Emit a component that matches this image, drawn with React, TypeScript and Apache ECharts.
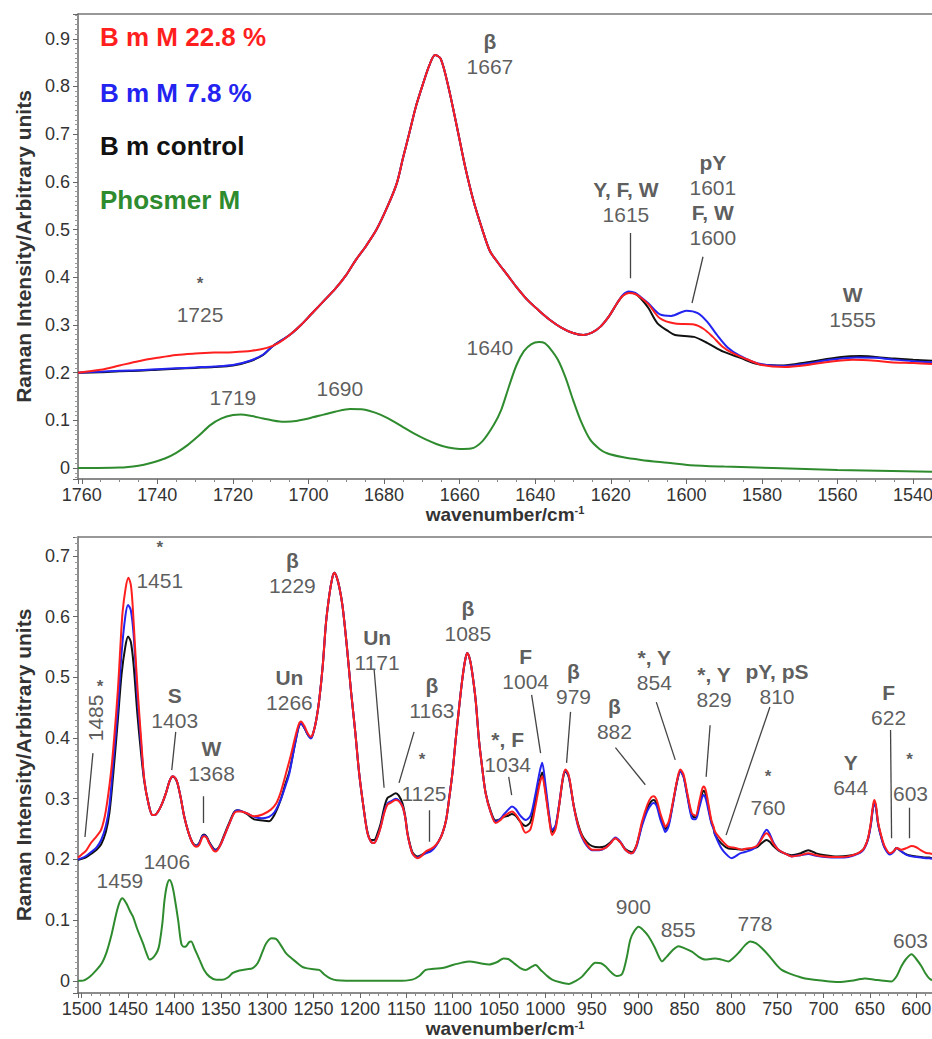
import React, { useEffect, useRef } from "react";
import * as echarts from "echarts";

// ---------- top panel (1760-1535 cm-1) ----------
const topRed: [number, number][] = [
  [1761, 0.2], [1755, 0.206], [1750, 0.215], [1745, 0.224], [1740, 0.231], [1735, 0.237], [1730, 0.24],
  [1725, 0.242], [1720, 0.243], [1715, 0.246], [1711, 0.252], [1708, 0.262], [1705, 0.279], [1702, 0.3],
  [1699, 0.325], [1696, 0.35], [1693, 0.375], [1690, 0.405], [1687.5, 0.436], [1685, 0.463], [1682, 0.5],
  [1679, 0.55], [1676.6, 0.598], [1675, 0.65], [1673.3, 0.703], [1671.5, 0.76], [1669.6, 0.808], [1668, 0.845],
  [1666.5, 0.866], [1665, 0.858], [1663, 0.8], [1660.4, 0.703], [1658.5, 0.63], [1656.4, 0.562], [1654, 0.5],
  [1652, 0.455], [1650, 0.432], [1647.4, 0.405], [1645, 0.38], [1642, 0.352], [1639, 0.33], [1636, 0.31],
  [1633, 0.294], [1630, 0.283], [1627.3, 0.279], [1625, 0.284], [1622.8, 0.296], [1620.5, 0.318], [1618.3, 0.346],
  [1616.8, 0.361], [1615.2, 0.367], [1613.5, 0.365], [1612, 0.357], [1610, 0.343], [1607, 0.314], [1603, 0.303],
  [1598, 0.301], [1595.5, 0.292], [1593, 0.275], [1590.5, 0.255], [1588, 0.242], [1584, 0.228], [1580, 0.216],
  [1574, 0.212], [1568, 0.216], [1562, 0.223], [1556, 0.227], [1550, 0.225], [1546, 0.222], [1540, 0.22], [1535, 0.218],
];
const topBlue: [number, number][] = [
  [1761, 0.2], [1755, 0.202], [1750, 0.204], [1745, 0.205], [1740, 0.207], [1735, 0.209], [1730, 0.211],
  [1725, 0.213], [1720, 0.216], [1715.5, 0.225], [1712, 0.238], [1709.4, 0.256], [1705, 0.279], [1702, 0.3],
  [1699, 0.325], [1696, 0.35], [1693, 0.375], [1690, 0.405], [1687.5, 0.436], [1685, 0.463], [1682, 0.5],
  [1679, 0.55], [1676.6, 0.598], [1675, 0.65], [1673.3, 0.703], [1671.5, 0.76], [1669.6, 0.808], [1668, 0.845],
  [1666.5, 0.866], [1665, 0.858], [1663, 0.8], [1660.4, 0.703], [1658.5, 0.63], [1656.4, 0.562], [1654, 0.5],
  [1652, 0.455], [1650, 0.432], [1647.4, 0.405], [1645, 0.38], [1642, 0.352], [1639, 0.33], [1636, 0.31],
  [1633, 0.294], [1630, 0.283], [1627.3, 0.279], [1625, 0.284], [1622.8, 0.296], [1620.5, 0.318], [1618.3, 0.346],
  [1616.8, 0.363], [1615.2, 0.37], [1613.5, 0.367], [1612, 0.358], [1610, 0.345], [1607, 0.322], [1604, 0.319],
  [1600, 0.33], [1597, 0.325], [1594.4, 0.306], [1592, 0.28], [1589, 0.252], [1586, 0.236], [1581, 0.219],
  [1574, 0.214], [1568, 0.219], [1562, 0.227], [1555, 0.232], [1550, 0.231], [1546, 0.228], [1540, 0.224], [1535, 0.222],
];
const topBlack: [number, number][] = [
  [1761, 0.2], [1755, 0.201], [1750, 0.203], [1745, 0.204], [1740, 0.206], [1735, 0.208], [1730, 0.21],
  [1725, 0.212], [1720, 0.215], [1715.5, 0.224], [1712, 0.237], [1709.4, 0.256], [1705, 0.279], [1702, 0.3],
  [1699, 0.325], [1696, 0.35], [1693, 0.375], [1690, 0.405], [1687.5, 0.436], [1685, 0.463], [1682, 0.5],
  [1679, 0.55], [1676.6, 0.598], [1675, 0.65], [1673.3, 0.703], [1671.5, 0.76], [1669.6, 0.808], [1668, 0.845],
  [1666.5, 0.866], [1665, 0.858], [1663, 0.8], [1660.4, 0.703], [1658.5, 0.63], [1656.4, 0.562], [1654, 0.5],
  [1652, 0.455], [1650, 0.432], [1647.4, 0.405], [1645, 0.38], [1642, 0.352], [1639, 0.33], [1636, 0.31],
  [1633, 0.294], [1630, 0.283], [1627.3, 0.279], [1625, 0.284], [1622.8, 0.296], [1620.5, 0.318], [1618.3, 0.346],
  [1616.8, 0.362], [1615.2, 0.368], [1613.5, 0.365], [1612, 0.355], [1610, 0.335], [1607.7, 0.304], [1605, 0.288],
  [1603, 0.279], [1598, 0.275], [1594.4, 0.262], [1590.2, 0.244], [1585.7, 0.231], [1581.2, 0.218], [1574.3, 0.215],
  [1568, 0.222], [1559, 0.233], [1554, 0.235], [1546, 0.23], [1540, 0.227], [1535, 0.225],
];
const topGreen: [number, number][] = [
  [1761, 0], [1750, 0.001], [1745, 0.005], [1742, 0.01], [1738, 0.02], [1735, 0.032], [1732, 0.048], [1729, 0.068],
  [1726, 0.09], [1723, 0.104], [1720, 0.111], [1718, 0.112], [1715, 0.109], [1712, 0.104], [1707, 0.097],
  [1704, 0.098], [1700, 0.104], [1696, 0.112], [1693, 0.118], [1689, 0.124], [1686, 0.123], [1684, 0.12],
  [1681, 0.112], [1678, 0.1], [1675, 0.086], [1672, 0.072], [1669, 0.06], [1666, 0.05], [1663, 0.043], [1660, 0.04],
  [1657, 0.041], [1654, 0.056], [1651, 0.09], [1649, 0.122], [1647, 0.17], [1645, 0.215], [1643, 0.245],
  [1641, 0.26], [1639, 0.264], [1637.5, 0.262], [1636, 0.25], [1634, 0.227], [1632, 0.19], [1630, 0.143],
  [1628, 0.1], [1625.5, 0.06], [1623, 0.04], [1621, 0.031], [1617, 0.023], [1612, 0.017], [1605, 0.011],
  [1599, 0.006], [1590, 0.003], [1577, 0], [1560, -0.004], [1535, -0.008],
];

// ---------- bottom panel (1500-585 cm-1) ----------
const botRed: [number, number][] = [
  [1504, 0.203], [1500, 0.208], [1495, 0.215], [1490, 0.227], [1484, 0.238], [1479, 0.249], [1474, 0.28],
  [1468.5, 0.342], [1465, 0.4], [1461, 0.479], [1458.5, 0.545], [1456, 0.606], [1452.5, 0.648], [1449.7, 0.664],
  [1447, 0.652], [1445, 0.617], [1442.5, 0.55], [1439.7, 0.479], [1436, 0.4], [1432.5, 0.331], [1428, 0.292],
  [1423.6, 0.273], [1420, 0.274], [1416.4, 0.282], [1413, 0.293], [1409, 0.31], [1405, 0.33], [1402, 0.337],
  [1399, 0.334], [1396.7, 0.326], [1393, 0.3], [1389.5, 0.271], [1385, 0.245], [1380.5, 0.227], [1376.5, 0.221],
  [1373.3, 0.224], [1370, 0.236], [1368, 0.238], [1365, 0.235], [1362.6, 0.227], [1358, 0.215], [1355.4, 0.213],
  [1351, 0.222], [1346.4, 0.238], [1341, 0.258], [1335.6, 0.276], [1332, 0.279], [1328.5, 0.279], [1322, 0.276],
  [1314, 0.271], [1305, 0.274], [1296, 0.282], [1290, 0.293], [1285.5, 0.31], [1280, 0.34], [1274.7, 0.37],
  [1270, 0.4], [1266, 0.422], [1263.6, 0.427], [1260, 0.42], [1256, 0.407], [1252.7, 0.402], [1250, 0.41],
  [1247, 0.43], [1243.8, 0.463], [1240, 0.52], [1236.6, 0.589], [1233, 0.635], [1230, 0.662], [1227.7, 0.672],
  [1225, 0.665], [1222, 0.647], [1218.7, 0.617], [1214, 0.55], [1209.7, 0.479], [1205, 0.41], [1200.8, 0.342],
  [1196, 0.285], [1191.8, 0.243], [1188, 0.229], [1184.6, 0.227], [1181, 0.237], [1177.4, 0.254], [1174, 0.275],
  [1170.3, 0.29], [1166, 0.294], [1161.3, 0.298], [1158, 0.296], [1154, 0.287], [1151, 0.268], [1148.8, 0.243],
  [1146, 0.223], [1143.4, 0.21], [1140, 0.204], [1138, 0.202], [1134, 0.205], [1129, 0.213], [1124, 0.217],
  [1120, 0.221], [1115, 0.23], [1111, 0.243], [1107, 0.265], [1103.9, 0.298], [1100, 0.345], [1096.7, 0.397],
  [1093, 0.45], [1089.6, 0.496], [1086.5, 0.528], [1084.2, 0.54], [1081.5, 0.53], [1078.8, 0.507], [1075, 0.46],
  [1071.6, 0.397], [1068, 0.35], [1064.4, 0.309], [1059, 0.278], [1053.6, 0.26], [1049, 0.264], [1044.7, 0.271],
  [1040, 0.276], [1036, 0.279], [1032, 0.274], [1027, 0.262], [1021.3, 0.244], [1016, 0.25], [1011, 0.285],
  [1006, 0.325], [1003.4, 0.337], [1000, 0.31], [996, 0.268], [992.7, 0.24], [989, 0.25], [985, 0.29],
  [981, 0.335], [978.3, 0.348], [975, 0.34], [972, 0.315], [969.3, 0.287], [965, 0.258], [960.4, 0.238],
  [955, 0.224], [949.6, 0.216], [942, 0.216], [935.2, 0.219], [930, 0.226], [924.5, 0.235], [919, 0.228],
  [913.7, 0.216], [906.6, 0.21], [902, 0.222], [899, 0.24], [895.8, 0.262], [890, 0.29], [886, 0.302],
  [883.2, 0.304], [880, 0.298], [876, 0.276], [872, 0.258], [870.7, 0.254], [867, 0.262], [862, 0.298],
  [858, 0.33], [854.5, 0.348], [851, 0.34], [847, 0.31], [842, 0.276], [838, 0.272], [834, 0.295], [831, 0.315],
  [829.4, 0.32], [827, 0.314], [824, 0.29], [821, 0.265], [818.6, 0.254], [816.8, 0.245], [810, 0.232],
  [802.5, 0.221], [795, 0.219], [788, 0.216], [783, 0.218], [777.2, 0.219], [772, 0.222], [768, 0.23],
  [764, 0.24], [761.3, 0.243], [758, 0.238], [754, 0.226], [748.7, 0.216], [742, 0.21], [734.3, 0.205],
  [725, 0.207], [716.4, 0.21], [708, 0.207], [698.4, 0.205], [685, 0.204], [673.3, 0.205], [663, 0.21],
  [658, 0.215], [655.3, 0.221], [652, 0.235], [649, 0.26], [647, 0.285], [645.3, 0.298], [643.5, 0.29],
  [641, 0.26], [637, 0.235], [633.8, 0.221], [628.4, 0.21], [624, 0.214], [621.3, 0.219], [616, 0.216],
  [610, 0.219], [605, 0.222], [600, 0.22], [595, 0.215], [590, 0.211], [586, 0.21], [583, 0.209],
];
const botBlue: [number, number][] = [
  [1504, 0.2], [1500, 0.202], [1495, 0.206], [1490, 0.212], [1484, 0.22], [1479, 0.232], [1474, 0.255],
  [1470, 0.29], [1466, 0.36], [1461, 0.45], [1457, 0.54], [1453, 0.6], [1450, 0.619], [1447, 0.61],
  [1444, 0.57], [1440, 0.47], [1436, 0.39], [1432.5, 0.331], [1428, 0.292], [1423.6, 0.273], [1420, 0.274],
  [1416.4, 0.282], [1413, 0.293], [1409, 0.31], [1405, 0.33], [1402, 0.337], [1399, 0.334], [1396.7, 0.326],
  [1393, 0.3], [1389.5, 0.271], [1385, 0.245], [1380.5, 0.227], [1376.5, 0.222], [1373.3, 0.226], [1370, 0.238],
  [1368, 0.24], [1365, 0.236], [1362.6, 0.228], [1358, 0.217], [1355.4, 0.215], [1351, 0.222], [1346.4, 0.238],
  [1341, 0.258], [1335.6, 0.277], [1332, 0.281], [1328.5, 0.28], [1322, 0.276], [1314, 0.27], [1305, 0.268],
  [1298, 0.27], [1292, 0.278], [1285.5, 0.298], [1280, 0.322], [1276, 0.342], [1270, 0.39], [1266, 0.418],
  [1263.6, 0.424], [1260, 0.417], [1256, 0.405], [1252.7, 0.399], [1250, 0.41], [1247, 0.43], [1243.8, 0.463],
  [1240, 0.52], [1236.6, 0.589], [1233, 0.635], [1230, 0.662], [1227.7, 0.672], [1225, 0.665], [1222, 0.647],
  [1218.7, 0.617], [1214, 0.55], [1209.7, 0.479], [1205, 0.41], [1200.8, 0.342], [1196, 0.285], [1191.8, 0.243],
  [1188, 0.229], [1184.6, 0.227], [1181, 0.237], [1177.4, 0.255], [1174, 0.277], [1170.3, 0.292], [1166, 0.296],
  [1161.3, 0.3], [1158, 0.297], [1154, 0.287], [1151, 0.268], [1148.8, 0.243], [1146, 0.223], [1143.4, 0.21],
  [1140, 0.204], [1138, 0.203], [1134, 0.206], [1129, 0.21], [1124, 0.213], [1120, 0.218], [1115, 0.23],
  [1111, 0.243], [1107, 0.265], [1103.9, 0.298], [1100, 0.345], [1096.7, 0.397], [1093, 0.45], [1089.6, 0.496],
  [1086.5, 0.528], [1084.2, 0.54], [1081.5, 0.53], [1078.8, 0.507], [1075, 0.46], [1071.6, 0.397], [1068, 0.35],
  [1064.4, 0.309], [1059, 0.278], [1053.6, 0.262], [1049, 0.266], [1044.7, 0.274], [1040, 0.282], [1036, 0.287],
  [1032, 0.283], [1027, 0.272], [1021.3, 0.265], [1016, 0.272], [1011, 0.305], [1006, 0.345], [1003.4, 0.359],
  [1000, 0.325], [996, 0.275], [992.7, 0.249], [989, 0.256], [985, 0.292], [981, 0.335], [978.3, 0.346],
  [975, 0.338], [972, 0.313], [969.3, 0.287], [965, 0.256], [960.4, 0.236], [955, 0.222], [949.6, 0.215],
  [942, 0.215], [935.2, 0.219], [930, 0.226], [924.5, 0.236], [919, 0.229], [913.7, 0.216], [906.6, 0.21],
  [902, 0.22], [899, 0.236], [895.8, 0.255], [890, 0.28], [886, 0.29], [883.2, 0.293], [880, 0.288],
  [876, 0.266], [872, 0.25], [870.7, 0.245], [867, 0.255], [862, 0.295], [858, 0.328], [854.5, 0.345],
  [851, 0.336], [847, 0.305], [842, 0.268], [838, 0.266], [834, 0.285], [831, 0.302], [829.4, 0.306],
  [827, 0.3], [824, 0.28], [821, 0.26], [818.6, 0.25], [816.8, 0.24], [810, 0.218], [802.5, 0.205],
  [799, 0.202], [795, 0.205], [790, 0.21], [783, 0.213], [777.2, 0.216], [772, 0.222], [768, 0.232],
  [764, 0.244], [761.3, 0.249], [758, 0.242], [754, 0.228], [748.7, 0.216], [742, 0.21], [734.3, 0.205],
  [725, 0.207], [716.4, 0.209], [708, 0.206], [698.4, 0.204], [685, 0.203], [673.3, 0.204], [663, 0.209],
  [658, 0.214], [655.3, 0.22], [652, 0.233], [649, 0.256], [647, 0.28], [645.3, 0.292], [643.5, 0.285],
  [641, 0.257], [637, 0.232], [633.8, 0.218], [628.4, 0.208], [624, 0.213], [621.3, 0.219], [616, 0.213],
  [610, 0.207], [605, 0.205], [600, 0.204], [595, 0.203], [590, 0.202], [586, 0.202], [583, 0.201],
];
const botBlack: [number, number][] = [
  [1504, 0.199], [1500, 0.201], [1495, 0.204], [1490, 0.209], [1484, 0.216], [1479, 0.225], [1474, 0.245],
  [1470, 0.278], [1466, 0.34], [1461, 0.43], [1457, 0.505], [1453, 0.55], [1450, 0.567], [1447, 0.558],
  [1444, 0.52], [1440, 0.44], [1436, 0.375], [1432.5, 0.328], [1428, 0.292], [1423.6, 0.273], [1420, 0.274],
  [1416.4, 0.282], [1413, 0.293], [1409, 0.31], [1405, 0.33], [1402, 0.336], [1399, 0.333], [1396.7, 0.325],
  [1393, 0.3], [1389.5, 0.271], [1385, 0.245], [1380.5, 0.228], [1376.5, 0.223], [1373.3, 0.227], [1370, 0.239],
  [1368, 0.241], [1365, 0.237], [1362.6, 0.229], [1358, 0.218], [1355.4, 0.216], [1351, 0.223], [1346.4, 0.24],
  [1341, 0.26], [1335.6, 0.278], [1332, 0.281], [1328.5, 0.28], [1322, 0.275], [1314, 0.266], [1305, 0.264],
  [1298, 0.263], [1292, 0.274], [1285.5, 0.298], [1280, 0.326], [1276, 0.345], [1270, 0.39], [1266, 0.418],
  [1263.6, 0.424], [1260, 0.417], [1256, 0.405], [1252.7, 0.4], [1250, 0.41], [1247, 0.43], [1243.8, 0.463],
  [1240, 0.52], [1236.6, 0.589], [1233, 0.635], [1230, 0.662], [1227.7, 0.672], [1225, 0.665], [1222, 0.647],
  [1218.7, 0.617], [1214, 0.55], [1209.7, 0.479], [1205, 0.41], [1200.8, 0.342], [1196, 0.285], [1191.8, 0.245],
  [1188, 0.232], [1184.6, 0.232], [1181, 0.243], [1177.4, 0.26], [1174, 0.284], [1170.3, 0.301], [1166, 0.305],
  [1161.3, 0.309], [1158, 0.305], [1154, 0.292], [1151, 0.27], [1148.8, 0.245], [1146, 0.225], [1143.4, 0.212],
  [1140, 0.206], [1138, 0.205], [1134, 0.207], [1129, 0.211], [1124, 0.214], [1120, 0.219], [1115, 0.23],
  [1111, 0.243], [1107, 0.265], [1103.9, 0.298], [1100, 0.345], [1096.7, 0.397], [1093, 0.45], [1089.6, 0.496],
  [1086.5, 0.528], [1084.2, 0.54], [1081.5, 0.53], [1078.8, 0.507], [1075, 0.46], [1071.6, 0.397], [1068, 0.35],
  [1064.4, 0.31], [1059, 0.28], [1053.6, 0.264], [1049, 0.266], [1044.7, 0.27], [1040, 0.272], [1036, 0.275],
  [1032, 0.272], [1027, 0.262], [1021.3, 0.255], [1016, 0.262], [1011, 0.295], [1006, 0.33], [1003.4, 0.343],
  [1000, 0.315], [996, 0.27], [992.7, 0.245], [989, 0.254], [985, 0.29], [981, 0.333], [978.3, 0.345],
  [975, 0.337], [972, 0.313], [969.3, 0.288], [965, 0.26], [960.4, 0.24], [955, 0.228], [949.6, 0.222],
  [942, 0.22], [935.2, 0.222], [930, 0.228], [924.5, 0.235], [919, 0.228], [913.7, 0.217], [906.6, 0.212],
  [902, 0.222], [899, 0.238], [895.8, 0.258], [890, 0.285], [886, 0.295], [883.2, 0.298], [880, 0.292],
  [876, 0.272], [872, 0.255], [870.7, 0.25], [867, 0.258], [862, 0.296], [858, 0.328], [854.5, 0.345],
  [851, 0.337], [847, 0.307], [842, 0.272], [838, 0.269], [834, 0.29], [831, 0.308], [829.4, 0.313],
  [827, 0.307], [824, 0.285], [821, 0.262], [818.6, 0.252], [816.8, 0.24], [810, 0.226], [802.5, 0.218],
  [795, 0.217], [788, 0.216], [783, 0.217], [777.2, 0.218], [772, 0.22], [768, 0.225], [764, 0.23],
  [761.3, 0.232], [758, 0.229], [754, 0.222], [748.7, 0.215], [742, 0.21], [734.3, 0.207], [725, 0.21],
  [716.4, 0.215], [708, 0.21], [698.4, 0.207], [685, 0.205], [673.3, 0.206], [663, 0.21], [658, 0.215],
  [655.3, 0.221], [652, 0.234], [649, 0.258], [647, 0.282], [645.3, 0.294], [643.5, 0.287], [641, 0.258],
  [637, 0.233], [633.8, 0.219], [628.4, 0.209], [624, 0.214], [621.3, 0.219], [616, 0.213], [610, 0.208],
  [605, 0.206], [600, 0.205], [595, 0.204], [590, 0.203], [586, 0.203], [583, 0.202],
];
const botGreen: [number, number][] = [
  [1504, 0], [1500, 0], [1492, 0.006], [1484, 0.018], [1478, 0.03], [1473.4, 0.046], [1468, 0.075],
  [1462.7, 0.111], [1459, 0.13], [1456.2, 0.136], [1452, 0.128], [1448, 0.115], [1444.8, 0.106], [1440, 0.085],
  [1434, 0.062], [1430, 0.045], [1426.8, 0.035], [1422, 0.04], [1418, 0.05], [1416, 0.062], [1413, 0.095],
  [1410.7, 0.133], [1408, 0.158], [1405.3, 0.166], [1402.5, 0.158], [1400, 0.139], [1396, 0.1], [1392.7, 0.062],
  [1390, 0.056], [1387.3, 0.057], [1384, 0.064], [1382, 0.065], [1378, 0.052], [1373, 0.035], [1368, 0.018],
  [1362.2, 0.007], [1355, 0.002], [1348, 0.002], [1342, 0.006], [1337, 0.013], [1330, 0.017], [1322, 0.019],
  [1315.6, 0.021], [1310, 0.03], [1305, 0.048], [1301, 0.062], [1295, 0.07], [1290.4, 0.069], [1285, 0.058],
  [1280, 0.046], [1276, 0.04], [1268, 0.03], [1262, 0.023], [1258, 0.021], [1250, 0.019], [1244, 0.018],
  [1238, 0.01], [1232, 0.004], [1225, 0.001], [1200, 0], [1160, 0], [1143.4, 0.002], [1136, 0.008],
  [1129, 0.018], [1120, 0.02], [1111, 0.021], [1100, 0.026], [1090, 0.03], [1082, 0.032], [1070, 0.029],
  [1060.8, 0.027], [1052, 0.031], [1045, 0.037], [1040, 0.036], [1033, 0.028], [1027, 0.021], [1021.3, 0.018],
  [1015, 0.023], [1010.5, 0.026], [1005, 0.018], [998, 0.008], [992.7, 0.002], [985, -0.002], [974.7, -0.005],
  [967, 0], [960.4, 0.007], [953, 0.02], [946, 0.03], [940, 0.029], [935.2, 0.024], [929, 0.014], [922.7, 0.008],
  [918, 0.01], [915.5, 0.018], [912, 0.04], [908.3, 0.068], [904, 0.082], [899.4, 0.089], [894, 0.083],
  [888.6, 0.073], [882, 0.055], [877, 0.038], [874.3, 0.032], [869, 0.04], [863, 0.05], [856.3, 0.057],
  [849, 0.053], [842, 0.048], [835, 0.04], [827.6, 0.035], [822, 0.036], [816.8, 0.037], [810, 0.035],
  [802.5, 0.032], [797, 0.038], [791.7, 0.046], [785, 0.058], [779.1, 0.065], [773, 0.062], [766.6, 0.054],
  [758, 0.04], [750, 0.025], [745.1, 0.018], [735, 0.011], [725, 0.006], [719.9, 0.004], [700, 0],
  [684, -0.002], [670, 0], [660, 0.003], [655.4, 0.004], [645, 0.002], [635, 0], [626.7, -0.001], [621, 0.008],
  [616, 0.024], [611, 0.036], [605.1, 0.044], [600, 0.036], [594.4, 0.024], [590, 0.012], [586, 0.004], [583, 0.001],
];

// ---------- annotations: [wavenumber, intensity, text ("^" = bold line, "|" = new line), rotate] ----------
type Note = [number, number, string, number?];
const topNotes: Note[] = [
  [1652, 0.868, "^β|1667"],
  [1616, 0.558, "^Y, F, W|1615"],
  [1593, 0.562, "^pY|1601|^F, W|1600"],
  [1556, 0.338, "^W|1555"],
  [1728.7, 0.386, "*"],
  [1728.7, 0.321, "1725"],
  [1720, 0.147, "1719"],
  [1691.7, 0.166, "1690"],
  [1652, 0.252, "1640"],
];
const topLeaders: [number, number, number, number][] = [
  [1614.9, 0.493, 1614.9, 0.398],
  [1595.6, 0.443, 1598.5, 0.346],
];
const botNotes: Note[] = [
  [1415.8, 0.7145, "*"],
  [1415.8, 0.66, "1451"],
  [1485.2, 0.433, "1485", 90],
  [1480.3, 0.484, "*"],
  [1399.7, 0.45, "^S|1403"],
  [1360, 0.362, "^W|1368"],
  [1272.8, 0.672, "^β|1229"],
  [1276, 0.479, "^Un|1266"],
  [1181.4, 0.545, "^Un|1171"],
  [1122.3, 0.466, "^β|1163"],
  [1133, 0.364, "*"],
  [1130.9, 0.309, "1125"],
  [1083.6, 0.593, "^β|1085"],
  [1040.6, 0.377, "^*, F|1034"],
  [1021.2, 0.514, "^F|1004"],
  [969.6, 0.489, "^β|979"],
  [925.5, 0.431, "^β|882"],
  [882.5, 0.512, "^*, Y|854"],
  [818, 0.484, "^*, Y|829"],
  [750.2, 0.489, "^pY, pS|810"],
  [759.9, 0.336, "*"],
  [759.9, 0.285, "760"],
  [670.7, 0.339, "^Y|644"],
  [629.8, 0.454, "^F|622"],
  [607.2, 0.364, "*"],
  [606.2, 0.309, "603"],
  [1458.8, 0.166, "1459"],
  [1408.3, 0.196, "1406"],
  [905.1, 0.122, "900"],
  [856.7, 0.085, "855"],
  [773.9, 0.095, "778"],
  [606.2, 0.067, "603"],
];
const botLeaders: [number, number, number, number][] = [
  [1487.9, 0.375, 1496.5, 0.237],
  [1398.6, 0.41, 1402.9, 0.347],
  [1368.5, 0.304, 1368.5, 0.26],
  [1184.6, 0.512, 1173.9, 0.318],
  [1141.6, 0.41, 1157.8, 0.326],
  [1125.5, 0.281, 1125.5, 0.229],
  [1039.5, 0.336, 1036.3, 0.306],
  [1014.8, 0.471, 1005.1, 0.375],
  [972.8, 0.443, 977.1, 0.359],
  [924.4, 0.384, 892.2, 0.323],
  [880.3, 0.459, 859.9, 0.364],
  [822.3, 0.421, 826.6, 0.336],
  [757.8, 0.451, 805.1, 0.24],
  [627.7, 0.413, 626.6, 0.235],
  [607.2, 0.285, 607.2, 0.235],
];

const legendItems = [
  { text: "B m M 22.8 %", color: "#ff1f1f" },
  { text: "B m M 7.8 %", color: "#2424f0" },
  { text: "B m control", color: "#111111" },
  { text: "Phosmer M", color: "#2e8b2e" },
];

const FONT = "Arial, 'Liberation Sans', Helvetica, sans-serif";
const TXT = "#333333";

function noteFormatter(p: any) {
  const text: string = p.data.text;
  return text
    .split("|")
    .map((s) => (s === "*" ? "{s|*}" : s.startsWith("^") ? `{b|${s.slice(1)}}` : `{n|${s}}`))
    .join("\n");
}

const richStyles = {
  b: { fontSize: 21, fontWeight: "bold", color: TXT, lineHeight: 25, fontFamily: FONT },
  n: { fontSize: 21, color: TXT, lineHeight: 25, fontFamily: FONT },
  s: { fontSize: 17, fontWeight: "bold", color: TXT, lineHeight: 20, fontFamily: FONT },
};

function noteSeries(notes: Note[], idx: number) {
  return {
    type: "scatter",
    xAxisIndex: idx,
    yAxisIndex: idx,
    symbolSize: 1,
    silent: true,
    z: 10,
    itemStyle: { color: "rgba(0,0,0,0)" },
    label: { show: true, position: "inside", formatter: noteFormatter, rich: richStyles, align: "center", verticalAlign: "middle" },
    data: notes.map((n) => ({
      value: [n[0], n[1]],
      text: n[2],
      label: n[3] ? { rotate: n[3] } : undefined,
    })),
  };
}

function leaderSeries(leaders: [number, number, number, number][], idx: number) {
  return {
    type: "lines",
    coordinateSystem: "cartesian2d",
    xAxisIndex: idx,
    yAxisIndex: idx,
    polyline: false,
    silent: true,
    z: 9,
    lineStyle: { color: "#444", width: 1.3, opacity: 1 },
    data: leaders.map((l) => ({ coords: [[l[0], l[1]], [l[2], l[3]]] })),
  };
}

function spectrum(data: [number, number][], color: string, idx: number) {
  return {
    type: "line",
    xAxisIndex: idx,
    yAxisIndex: idx,
    data,
    showSymbol: false,
    smooth: 0.3,
    silent: true,
    lineStyle: { color, width: 2 },
    itemStyle: { color },
  };
}

const xAxisBase = (min: number, max: number, split: number, minorSplit: number, gridIndex: number, nameGap: number) => ({
  type: "value",
  gridIndex,
  min,
  max,
  inverse: true,
  splitNumber: split,
  name: "{a|wavenumber/cm}{s|-1}",
  nameLocation: "middle",
  nameGap,
  nameTextStyle: {
    rich: {
      a: { fontSize: 19, fontWeight: "bold", color: TXT, fontFamily: FONT },
      s: { fontSize: 11, fontWeight: "bold", color: TXT, fontFamily: FONT, verticalAlign: "top", padding: [0, 0, 8, 0] },
    },
  },
  axisLine: { onZero: false, lineStyle: { color: "#666", width: 1.5 } },
  axisTick: { length: 5, lineStyle: { color: "#666" } },
  minorTick: { show: true, splitNumber: minorSplit, length: 3, lineStyle: { color: "#888" } },
  axisLabel: {
    fontSize: 18,
    color: TXT,
    fontFamily: FONT,
    margin: 7,
    showMinLabel: false,
    showMaxLabel: false,
    formatter: (v: number) => String(Math.round(v)),
  },
  splitLine: { show: false },
});

const yAxisBase = (min: number, max: number, split: number, gridIndex: number) => ({
  type: "value",
  gridIndex,
  min,
  max,
  splitNumber: split,
  name: "Raman Intensity/Arbitrary units",
  nameLocation: "middle",
  nameGap: 42,
  nameTextStyle: { fontSize: 21, fontWeight: "bold", color: TXT, fontFamily: FONT },
  axisLine: { show: true, onZero: false, lineStyle: { color: "#666", width: 1.5 } },
  axisTick: { show: true, length: 5, lineStyle: { color: "#666" } },
  minorTick: { show: true, splitNumber: 10, length: 3, lineStyle: { color: "#999" } },
  axisLabel: {
    fontSize: 18,
    color: TXT,
    fontFamily: FONT,
    margin: 8,
    showMinLabel: false,
    showMaxLabel: false,
    formatter: (v: number) => (Math.abs(v) < 1e-9 ? "0" : String(Math.round(v * 10) / 10)),
  },
  splitLine: { show: false },
});

const topBorder = (min: number, max: number, gridIndex: number) => ({
  type: "value",
  gridIndex,
  min,
  max,
  position: "top",
  axisLine: { show: true, onZero: false, lineStyle: { color: "#777", width: 1.5 } },
  axisTick: { show: false },
  axisLabel: { show: false },
  splitLine: { show: false },
});

export default function App() {
  const ref = useRef<HTMLDivElement>(null);
  useEffect(() => {
    document.body.style.margin = "0";
    const chart = echarts.init(ref.current!, undefined, { renderer: "svg" });
    const option: any = {
      animation: false,
      backgroundColor: "#ffffff",
      textStyle: { fontFamily: FONT },
      grid: [
        { left: 78, top: 14, right: 0, height: 465, containLabel: false, outerBoundsMode: "none" },
        { left: 78, top: 537, right: 0, height: 456, containLabel: false, outerBoundsMode: "none" },
      ],
      xAxis: [
        xAxisBase(1535, 1761, 11, 4, 0, 25),
        xAxisBase(583, 1504, 18, 5, 1, 26),
        topBorder(1535, 1761, 0),
        topBorder(583, 1504, 1),
      ],
      yAxis: [yAxisBase(-0.023, 0.952, 10, 0), yAxisBase(-0.02, 0.731, 8, 1)],
      graphic: legendItems.map((it, i) => ({
        type: "text",
        x: 100,
        y: [37, 93, 146, 200][i],
        silent: true,
        style: {
          text: it.text,
          fill: it.color,
          fontSize: 26,
          fontWeight: "bold",
          fontFamily: FONT,
          verticalAlign: "middle",
        },
      })),
      series: [
        spectrum(topGreen, "#2e8b2e", 0),
        spectrum(topBlack, "#111111", 0),
        spectrum(topBlue, "#2424f0", 0),
        spectrum(topRed, "#ff1f1f", 0),
        leaderSeries(topLeaders, 0),
        noteSeries(topNotes, 0),
        spectrum(botGreen, "#2e8b2e", 1),
        spectrum(botBlack, "#111111", 1),
        spectrum(botBlue, "#2424f0", 1),
        spectrum(botRed, "#ff1f1f", 1),
        leaderSeries(botLeaders, 1),
        noteSeries(botNotes, 1),
      ],
    };
    chart.setOption(option);
    return () => chart.dispose();
  }, []);
  return <div ref={ref} style={{ width: 932, height: 1039, background: "#fff" }} />;
}
